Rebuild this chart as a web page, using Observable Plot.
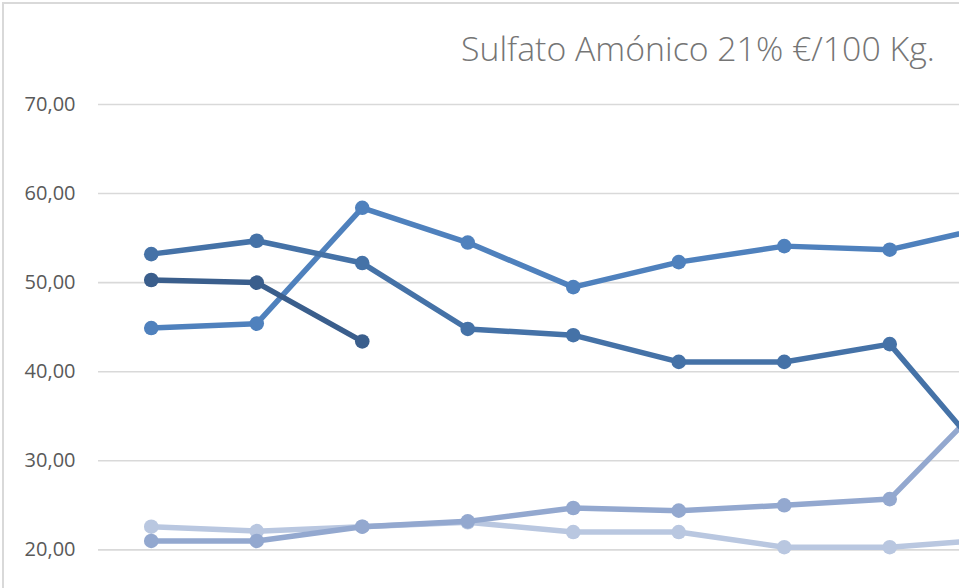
<!DOCTYPE html>
<html>
<head>
<meta charset="utf-8">
<script src="https://cdn.jsdelivr.net/npm/d3@7"></script>
<script src="https://cdn.jsdelivr.net/npm/@observablehq/plot@0.6"></script>
<style>
  html, body { margin: 0; padding: 0; background: #fff; overflow: hidden; }
  #wrap { position: relative; width: 959px; height: 588px; overflow: hidden; background: #fff; }
  #frame { position: absolute; left: 2px; top: 2px; width: 1200px; height: 1000px;
           border-left: 2px solid #d9d9d9; border-top: 2px solid #d9d9d9; pointer-events: none; }
  #chart { position: absolute; left: 0; top: 0; width: 1364px; height: 740px; }
  #chart svg { max-width: none !important; width: 1364px; height: 740px; }
  #title { position: absolute; white-space: nowrap; color: #757575;
           font-family: "Open Sans", "Noto Sans", sans-serif; font-weight: 300; line-height: 1; }
</style>
</head>
<body>
<div id="wrap">
  <div id="chart"></div>
  <div id="frame"></div>
  <div id="title">Sulfato Amónico 21% €/100 Kg.</div>
</div>
<script>
// Categories (x axis is not visible in the cropped reference)
const months = ["Ene", "Feb", "Mar", "Abr", "May", "Jun", "Jul", "Ago", "Sep", "Oct", "Nov", "Dic"];
// Series names (no legend visible)
const serieNames = ["Serie 1", "Serie 2", "Serie 3", "Serie 4", "Serie 5"];
// Series values
const serie1 = [50.3, 50.0, 43.4];
const serie2 = [53.2, 54.7, 52.2, 44.8, 44.1, 41.1, 41.1, 43.1, 29.2];
const serie3 = [44.9, 45.4, 58.4, 54.5, 49.5, 52.3, 54.1, 53.7, 56.4];
const serie4 = [21.0, 21.0, 22.6, 23.2, 24.7, 24.4, 25.0, 25.7, 37.8];
const serie5 = [22.6, 22.1, 22.6, 23.1, 22.0, 22.0, 20.3, 20.3, 21.2];
// Y tick values (visible ones)
const yTicks = [20, 30, 40, 50, 60, 70];

const seriesValues = [serie1, serie2, serie3, serie4, serie5];
const colors = ["#3a5e8c", "#4572a7", "#4f81bd", "#93a8cf", "#b9c7e0"];

const rows = seriesValues.flatMap((vals, i) =>
  vals.map((v, j) => ({ serie: serieNames[i], month: months[j], value: v }))
);

// draw order: lightest first, darkest on top
const drawOrder = [4, 3, 2, 1, 0];
const seriesMarks = drawOrder.flatMap(i => {
  const d = rows.filter(r => r.serie === serieNames[i]);
  return [
    Plot.line(d, { x: "month", y: "value", stroke: "serie", strokeWidth: 5.5,
                   strokeLinejoin: "round", strokeLinecap: "round" }),
    Plot.dot(d, { x: "month", y: "value", fill: "serie", r: 7.3, stroke: "none" })
  ];
});

const fmt = d => d.toFixed(2).replace(".", ",");

const chart = Plot.plot({
  width: 1364,
  height: 740,
  marginLeft: 98,
  marginRight: 0,
  marginTop: 104,
  marginBottom: 12.5,
  style: { fontFamily: "'Open Sans', 'Noto Sans', sans-serif", fontSize: "20px", color: "#595959",
           background: "transparent", maxWidth: "none" },
  x: { type: "point", domain: months, padding: 0.5, round: false, axis: null },
  y: { domain: [0, 70], ticks: yTicks, tickFormat: fmt, tickSize: 0, tickPadding: 23, label: null },
  color: { domain: serieNames, range: colors },
  marks: [
    Plot.gridY(yTicks, { stroke: "#d9d9d9", strokeOpacity: 1, strokeWidth: 1.6 }),
    ...seriesMarks
  ]
});
document.getElementById("chart").appendChild(chart);

// Fit the title to the reference's span
const title = document.getElementById("title");
let fs = 32;
title.style.fontSize = fs + "px";
const w = title.getBoundingClientRect().width;
fs = fs * 474 / w;
title.style.fontSize = fs + "px";
title.style.left = "461px";
title.style.top = (62 - 0.888 * fs) + "px";
</script>
</body>
</html>
